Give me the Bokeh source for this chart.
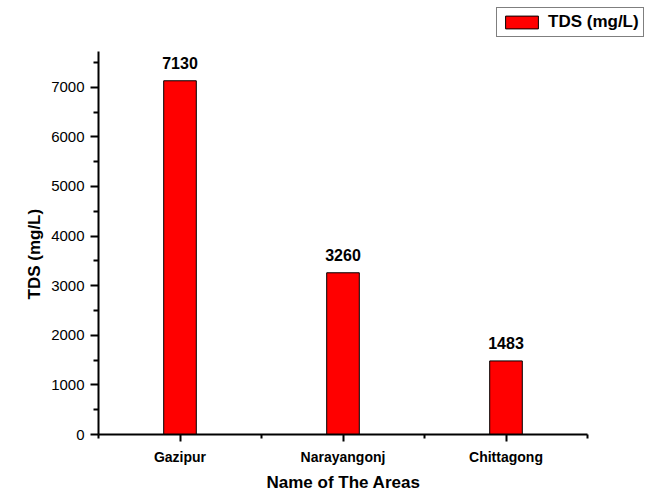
from bokeh.plotting import figure
from bokeh.models import ColumnDataSource, FixedTicker, Range1d, Legend, LegendItem, Title
from bokeh.core.properties import value
from bokeh.embed import file_html
from bokeh.resources import INLINE

areas = ["Gazipur", "Narayangonj", "Chittagong"]
tds = [7130, 3260, 1483]
series_name = "TDS (mg/L)"
x_title = "Name of The Areas"
y_title = "TDS (mg/L)"
y_max = 7720

xpos = [i + 0.5 for i in range(len(areas))]
src = ColumnDataSource(dict(x=xpos, top=tds, label=[str(v) for v in tds]))

FONT = "Liberation Sans"

# plot frame extends beyond the visible axes so that the legend (top right) is not clipped
W, H = 659, 498
AX_L, AX_R, AX_T, AX_B = 98, 587, 51, 434      # visible axes box (pixels)
FR_T, FR_R = 4, 656                             # frame box top / right (pixels)
n = len(areas)
x_end = n * (FR_R - AX_L) / (AX_R - AX_L)
y_end = y_max * (AX_B - FR_T) / (AX_B - AX_T)

p = figure(width=W, height=H, output_backend="svg", toolbar_location=None,
           x_range=Range1d(0, x_end), y_range=Range1d(0, y_end),
           min_border_left=AX_L, min_border_right=W - FR_R, min_border_top=FR_T,
           min_border_bottom=H - AX_B)
p.outline_line_color = None
p.xgrid.visible = False
p.ygrid.visible = False

bars = p.vbar(x="x", top="top", width=0.2, bottom=0, source=src,
              fill_color="#FF0000", line_color="black", line_width=1)

p.text(x="x", y="top", text="label", source=src, text_align="center",
       text_baseline="bottom", y_offset=-12, text_font=value(FONT),
       text_font_size="16px", text_font_style="bold", text_color="black")

# x axis
p.xaxis.ticker = FixedTicker(ticks=xpos, minor_ticks=list(range(n + 1)))
p.xaxis.major_label_overrides = {x: a for x, a in zip(xpos, areas)}
p.xaxis.bounds = (0, n)
# y axis
p.yaxis.ticker = FixedTicker(ticks=list(range(0, 8000, 1000)),
                             minor_ticks=list(range(500, 8000, 1000)))
p.yaxis.bounds = (0, y_max)

for ax in (p.xaxis[0], p.yaxis[0]):
    ax.axis_line_width = 2
    ax.axis_line_color = "black"
    ax.major_tick_line_width = 2
    ax.minor_tick_line_width = 2
    ax.major_tick_in = 0
    ax.minor_tick_in = 0
    ax.major_tick_out = 8
    ax.minor_tick_out = 5
    ax.major_label_text_font = FONT
    ax.major_label_text_color = "black"

p.xaxis.major_label_text_font_size = "14px"
p.xaxis.major_label_text_font_style = "bold"
p.xaxis.major_tick_out = 7
p.xaxis.major_label_standoff = 7
p.xaxis.minor_tick_out = 4
p.yaxis.major_label_text_font_size = "15px"
p.yaxis.major_label_standoff = 6

# axis titles, placed along the visible axes rather than the (wider) frame
p.add_layout(Title(text=x_title, align="left", offset=168, standoff=6,
                   text_font=FONT, text_font_size="17px", text_font_style="bold",
                   text_color="black"), "below")
p.add_layout(Title(text=y_title, align="left", offset=135, standoff=10,
                   text_font=FONT, text_font_size="17px", text_font_style="bold",
                   text_color="black"), "left")

legend = Legend(items=[LegendItem(label=series_name, renderers=[bars])],
                location=(398, 397), orientation="vertical")
legend.glyph_width = 41
legend.glyph_height = 16
legend.label_standoff = 6
legend.padding = 4
legend.margin = 0
legend.spacing = 0
legend.border_line_color = "black"
legend.border_line_width = 1
legend.background_fill_alpha = 1
legend.label_text_font = FONT
legend.label_text_font_size = "17px"
legend.label_text_font_style = "bold"
legend.label_text_color = "black"
p.add_layout(legend, "center")

open("out.html", "w").write(file_html(p, INLINE))
